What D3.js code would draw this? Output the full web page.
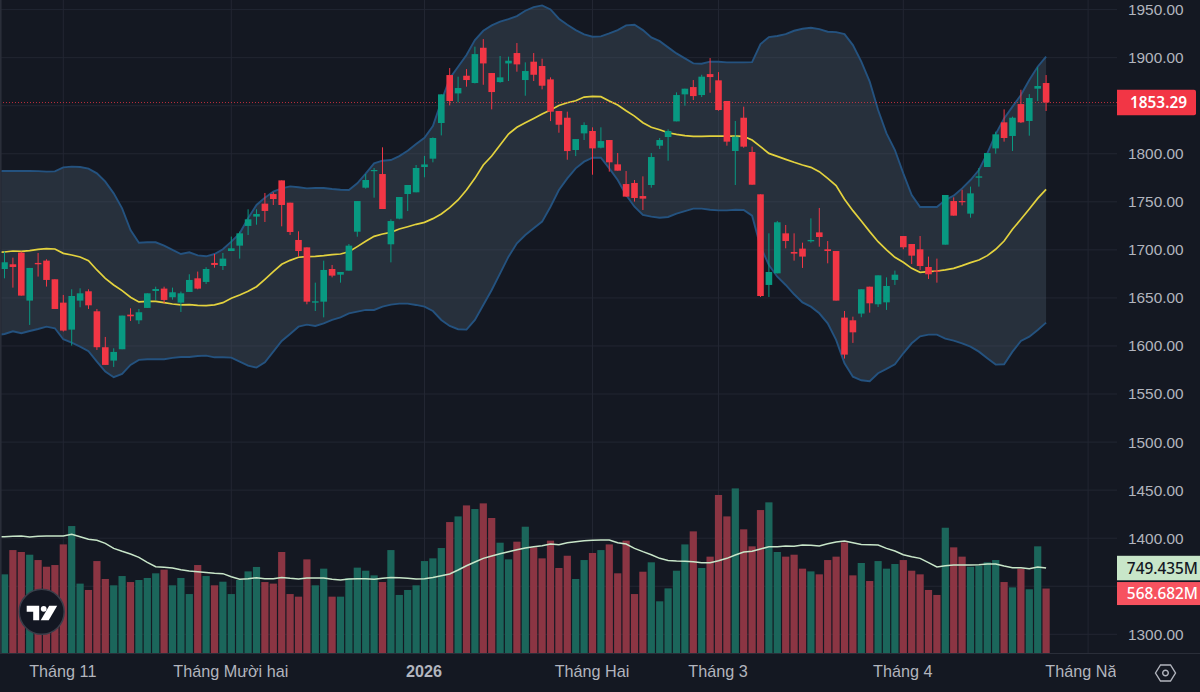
<!DOCTYPE html>
<html>
<head>
<meta charset="utf-8">
<script src="https://cdn.jsdelivr.net/npm/d3@7"></script>
<style>
  html, body { margin: 0; background: #131722; overflow: hidden; }
  svg { display: block; font-family: "Noto Sans", sans-serif; }
  .axis path, .axis line { display: none; }
  .axis text { fill: #b2b5be; font-size: 15.4px; }
  .time text { font-size: 16.2px; }
</style>
</head>
<body>
<svg id="chart" width="1200" height="692"></svg>
<script>
'use strict';

// candles, left to right (the first one sits just off the left edge)
var opens = [
  1690.0,
  1680.1,1685.0,1697.1,1647.2,1686.4,1688.8,1669.4,1645.1,1617.0,1647.2,
  1656.9,1636.1,1598.7,1584.8,1596.6,1632.6,1626.7,1639.6,1657.2,1659.7,
  1650.7,1645.1,1656.2,1670.4,1666.6,1686.4,1683.2,1698.8,1704.4,1724.9,
  1734.6,1748.1,1758.1,1772.3,1749.1,1710.3,1702.6,1645.1,1646.1,1680.1,
  1674.2,1678.4,1718.9,1764.7,1782.0,1778.9,1705.8,1732.5,1758.1,1759.9,
  1786.2,1794.9,1832.0,1881.9,1862.8,1881.2,1873.6,1910.3,1884.0,1874.6,
  1894.0,1904.8,1876.7,1895.8,1891.3,1877.4,1844.5,1837.5,1803.9,1821.2,
  1823.7,1806.3,1814.3,1789.0,1768.5,1769.6,1756.0,1767.5,1808.4,1817.4,
  1833.7,1861.8,1869.4,1861.1,1882.9,1876.4,1854.9,1802.9,1837.5,1801.8,
  1757.8,1663.5,1675.6,1717.2,1697.8,1701.3,1708.9,1718.2,1700.6,1698.8,
  1629.5,1626.7,1633.7,1661.7,1643.4,1645.4,1668.7,1714.4,1706.1,1700.6,
  1682.2,1678.4,1705.4,1750.8,1750.8,1737.7,1775.1,1786.2,1805.6,1832.7,
  1818.5,1851.7,1834.1,1867.7,1873.6
];
var closes = [
  1695.0,
  1687.1,1682.2,1652.4,1681.2,1685.0,1668.7,1638.5,1616.0,1652.0,1654.8,
  1642.3,1598.7,1580.3,1593.8,1631.6,1630.9,1635.1,1654.8,1659.3,1647.9,
  1655.9,1654.8,1668.7,1659.7,1680.1,1684.3,1690.9,1701.6,1717.2,1731.8,
  1737.3,1740.5,1752.9,1746.7,1718.6,1698.8,1646.1,1646.5,1679.1,1673.2,
  1677.0,1704.4,1750.8,1772.7,1783.1,1742.5,1730.0,1755.0,1767.5,1785.2,
  1788.9,1816.4,1861.8,1854.9,1868.4,1876.7,1903.7,1894.0,1864.2,1879.5,
  1896.8,1893.0,1886.1,1882.2,1870.8,1843.8,1830.2,1802.8,1815.3,1829.9,
  1805.6,1813.2,1791.1,1782.4,1755.4,1754.0,1753.3,1796.6,1814.3,1823.7,
  1861.1,1867.7,1860.0,1880.2,1879.8,1845.5,1812.6,1817.8,1807.4,1767.8,
  1652.0,1677.0,1728.7,1709.2,1696.1,1693.0,1710.3,1713.4,1698.8,1647.2,
  1591.0,1614.2,1659.0,1644.4,1673.5,1662.4,1674.2,1702.7,1694.0,1683.2,
  1674.6,1677.3,1757.1,1735.6,1749.8,1758.8,1776.5,1800.8,1820.2,1816.4,
  1837.5,1832.7,1858.0,1870.5,1853.29
];
var highs = [
  1700.0,
  1698.2,1691.9,1698.2,1681.2,1696.8,1690.2,1669.4,1653.1,1659.0,1660.0,
  1659.0,1638.5,1609.4,1597.6,1631.6,1639.2,1638.5,1654.8,1661.7,1661.7,
  1660.7,1656.6,1674.6,1677.4,1681.9,1695.7,1696.8,1713.8,1719.0,1742.2,
  1742.2,1759.2,1759.9,1772.3,1749.1,1719.3,1702.6,1665.9,1688.8,1684.3,
  1677.0,1706.1,1750.8,1778.9,1785.2,1806.7,1731.8,1755.0,1767.5,1788.3,
  1797.7,1817.0,1861.8,1889.2,1880.2,1888.1,1911.4,1919.3,1884.0,1901.7,
  1901.0,1915.2,1895.1,1904.8,1898.9,1879.5,1844.5,1843.8,1815.3,1832.7,
  1827.5,1827.5,1814.3,1800.8,1782.0,1772.7,1776.5,1800.8,1816.4,1825.4,
  1863.9,1867.7,1876.7,1882.2,1899.6,1885.0,1854.9,1834.1,1849.0,1807.4,
  1757.8,1717.2,1730.1,1725.9,1717.2,1707.5,1732.8,1743.6,1709.2,1698.8,
  1636.4,1630.5,1659.0,1661.7,1673.5,1671.4,1678.4,1714.4,1706.1,1714.4,
  1693.0,1690.9,1757.1,1754.7,1762.6,1765.8,1785.2,1800.8,1823.0,1846.2,
  1838.6,1866.6,1862.1,1889.9,1881.9
];
var lows = [
  1685.0,
  1670.4,1660.7,1652.4,1621.9,1672.2,1661.8,1638.5,1615.0,1600.4,1640.3,
  1638.5,1595.9,1580.3,1578.2,1596.6,1626.0,1622.9,1639.6,1647.9,1644.4,
  1648.2,1635.4,1656.2,1659.0,1664.5,1681.5,1679.1,1698.8,1690.9,1715.5,
  1726.2,1729.0,1746.7,1724.5,1715.5,1692.9,1643.4,1636.4,1629.8,1671.4,
  1665.9,1678.4,1713.7,1763.7,1754.3,1742.5,1687.0,1731.8,1740.4,1759.9,
  1775.5,1791.1,1819.1,1850.3,1853.5,1869.8,1873.2,1871.8,1846.2,1873.9,
  1875.7,1885.4,1860.4,1875.7,1867.0,1834.0,1821.9,1793.8,1797.6,1814.3,
  1778.2,1805.6,1781.4,1782.4,1755.4,1750.2,1741.5,1764.7,1804.9,1792.8,
  1833.7,1850.0,1855.9,1859.0,1863.5,1844.8,1808.4,1767.5,1806.3,1767.8,
  1651.0,1651.0,1675.6,1701.6,1688.8,1681.2,1707.5,1703.3,1686.0,1647.2,
  1586.9,1603.2,1629.9,1634.7,1640.6,1637.5,1663.5,1700.6,1685.3,1679.1,
  1669.7,1665.9,1705.4,1735.6,1746.3,1733.5,1765.8,1786.2,1800.1,1812.6,
  1802.9,1832.0,1818.8,1854.9,1844.5
];

// bollinger bands
var bandUpper = [
  1782.1,
  1782.1,1782.1,1782.1,1782.1,1781.9,1781.4,1781.7,1785.9,1786.6,1786.2,
  1784.5,1779.6,1771.0,1758.8,1743.2,1720.7,1707.5,1707.9,1707.9,1704.4,
  1699.9,1695.7,1697.5,1694.3,1693.3,1695.7,1700.6,1708.6,1717.2,1732.8,
  1746.7,1754.3,1760.6,1764.0,1766.1,1765.1,1764.0,1764.4,1764.4,1763.3,
  1762.6,1762.3,1769.2,1779.3,1790.0,1792.8,1793.5,1797.6,1803.2,1810.1,
  1816.7,1828.8,1854.2,1878.4,1890.6,1902.7,1918.3,1928.0,1933.6,1937.4,
  1940.1,1943.3,1948.8,1952.6,1954.4,1950.2,1940.5,1934.2,1928.7,1924.2,
  1921.8,1922.1,1925.2,1928.7,1933.6,1934.2,1928.7,1921.1,1917.2,1910.7,
  1904.4,1899.2,1894.0,1893.7,1895.8,1895.8,1895.1,1895.1,1895.1,1895.4,
  1914.1,1921.4,1922.5,1924.5,1928.0,1930.1,1931.1,1929.7,1927.0,1926.6,
  1924.5,1913.1,1895.8,1875.0,1845.5,1821.2,1803.9,1779.6,1757.1,1744.6,
  1744.6,1744.6,1751.9,1756.4,1764.0,1772.7,1783.1,1800.4,1820.5,1836.8,
  1849.0,1861.1,1876.7,1890.6,1901.0
];
var bandBasis = [
  1697.5,
  1697.8,1698.8,1698.5,1699.2,1700.6,1701.3,1700.9,1696.4,1694.7,1692.6,
  1688.8,1679.1,1670.4,1663.5,1657.6,1650.7,1645.8,1646.5,1646.5,1645.1,
  1643.7,1642.7,1643.0,1642.3,1642.0,1642.7,1645.1,1649.6,1653.1,1656.9,
  1661.7,1669.4,1677.4,1685.0,1689.1,1692.3,1692.9,1693.3,1694.0,1695.0,
  1695.7,1698.1,1703.4,1708.9,1714.1,1716.5,1718.2,1721.7,1724.1,1726.6,
  1728.6,1732.5,1737.3,1743.9,1751.9,1762.3,1774.4,1788.3,1797.6,1809.1,
  1820.5,1827.5,1832.3,1836.8,1841.3,1845.5,1850.3,1853.1,1855.2,1859.0,
  1859.7,1859.4,1854.9,1850.7,1844.8,1839.2,1832.3,1827.5,1825.0,1821.9,
  1820.2,1818.8,1818.1,1818.1,1818.4,1818.4,1818.4,1818.4,1818.1,1814.3,
  1807.4,1800.4,1797.3,1794.2,1791.1,1788.3,1785.9,1781.4,1774.4,1766.8,
  1752.6,1740.8,1730.0,1719.0,1708.5,1699.9,1692.3,1687.1,1680.8,1676.6,
  1677.3,1678.0,1679.1,1680.8,1683.6,1686.7,1689.5,1694.0,1700.6,1709.2,
  1721.4,1731.8,1742.5,1753.6,1763.0
];
var bandLower = [
  1611.0,
  1612.5,1615.3,1613.2,1615.6,1617.7,1620.1,1618.4,1607.0,1603.5,1599.3,
  1594.5,1583.7,1573.3,1567.5,1570.9,1580.3,1585.5,1586.2,1586.2,1586.2,
  1587.6,1588.6,1588.6,1589.6,1590.0,1588.2,1588.2,1587.9,1583.7,1579.6,
  1577.5,1583.0,1594.1,1605.2,1612.5,1620.1,1622.2,1620.8,1623.6,1627.1,
  1629.8,1634.0,1635.7,1637.5,1637.5,1640.9,1643.0,1644.1,1644.1,1642.7,
  1640.9,1636.4,1627.1,1620.8,1617.4,1617.0,1627.1,1642.7,1658.3,1675.6,
  1692.9,1706.8,1715.5,1722.4,1729.4,1744.9,1762.3,1774.4,1784.8,1791.8,
  1795.9,1795.9,1784.8,1772.7,1757.1,1744.9,1736.3,1734.6,1733.5,1734.2,
  1737.7,1740.4,1742.9,1742.9,1741.8,1741.1,1741.1,1741.8,1741.5,1735.6,
  1703.4,1684.3,1672.1,1663.5,1653.8,1645.4,1640.9,1634.0,1623.6,1606.3,
  1582.0,1568.1,1564.3,1563.3,1571.6,1576.1,1581.0,1592.4,1602.8,1610.1,
  1611.8,1611.8,1607.7,1605.6,1602.8,1599.3,1594.1,1587.2,1580.6,1581.0,
  1594.1,1605.2,1609.7,1616.7,1624.3
];

// volume in millions, and its moving average
var volumes = [
  700,
  694,908,891,867,820,761,776,958,1120,612,
  556,811,653,597,679,626,644,662,703,735,
  597,662,520,776,679,597,629,520,644,720,
  759,626,612,891,520,497,826,597,744,497,
  497,659,753,726,685,626,908,512,556,597,
  811,835,926,1155,1205,1302,1270,1320,1191,973,
  826,982,1114,932,835,991,750,858,653,820,
  882,908,958,703,991,520,717,800,456,570,
  726,958,1073,750,850,1394,1205,1452,1091,941,
  1261,1329,891,850,867,744,720,694,820,850,
  976,685,794,635,811,744,785,820,726,694,
  556,512,1105,932,850,761,770,800,820,626,
  579,744,562,941,568.682
];
var volumeMa = [
  1026,
  1026,1029,1032,1023,1029,1032,1032,1032,1047,1026,
  1003,994,967,923,897,873,844,800,761,756,
  750,735,723,717,711,703,700,673,650,656,
  664,656,656,667,659,653,662,662,662,650,
  644,653,656,656,650,659,667,664,659,653,
  656,667,682,697,732,770,803,835,856,876,
  894,911,926,938,947,961,955,973,982,991,
  994,997,997,973,961,923,894,867,835,817,
  811,809,806,797,797,814,835,864,891,897,
  917,938,938,944,941,953,950,944,964,979,
  988,973,958,955,953,923,900,867,850,835,
  797,759,770,776,776,776,779,785,785,767,
  753,753,744,759,749.435
];

// axes
var priceTicks = [1950,1900,1800,1750,1700,1650,1600,1550,1500,1450,1400,1300];
var gridPrices = [1950,1900,1850,1800,1750,1700,1650,1600,1550,1500,1450,1400,1350,1300];
var timeTicks  = [8,28,51,71,86,108,130];
var timeLabels = ['Tháng 11','Tháng Mười hai','2026','Tháng Hai','Tháng 3','Tháng 4','Tháng Năm'];
var lastPrice  = 1853.29;
var lastVolume = 568.682;
var lastMa     = 749.435;

var up = '#089981', down = '#f23645', volUp = '#1b665b', volDown = '#8b3543';

var svg = d3.select('#chart')
  , W = 1117
  , paneBottom = 653
  , idx = d3.range(opens.length);

var x = d3.scaleLinear().domain([0, 125]).range([-3.9, 1046.1])
  , y = d3.scaleLinear().domain([1300, 1950]).range([634.3, 9.6])
  , v = d3.scaleLinear().domain([0, 1452]).range([paneBottom, 488.4]);

svg.append('rect').attr('width', 1200).attr('height', 692).attr('fill', '#141822');

var defs = svg.append('defs');
defs.append('clipPath').attr('id', 'timeClip')
  .append('rect').attr('x', 0).attr('y', 0).attr('width', W).attr('height', 40);
defs.append('clipPath').attr('id', 'pane')
  .append('rect').attr('x', 1.6).attr('width', W - 1.6).attr('height', paneBottom);

// grid
var grid = svg.append('g').attr('stroke', '#222632').attr('stroke-width', 1);
grid.selectAll('.h').data(gridPrices).join('line').attr('class', 'h')
  .attr('x1', 0).attr('x2', W)
  .attr('y1', function(d){ return y(d); }).attr('y2', function(d){ return y(d); });
grid.selectAll('.v').data(timeTicks).join('line').attr('class', 'v')
  .attr('y1', 0).attr('y2', paneBottom)
  .attr('x1', function(d){ return x(d); }).attr('x2', function(d){ return x(d); });

svg.append('rect').attr('width', 1.6).attr('height', paneBottom).attr('fill', '#2a2e39');

var pane = svg.append('g').attr('clip-path', 'url(#pane)');

// volume
pane.append('g').selectAll('rect').data(idx).join('rect')
  .attr('x', function(i){ return x(i) - 3.6; })
  .attr('width', 7.2)
  .attr('y', function(i){ return v(volumes[i]); })
  .attr('height', function(i){ return paneBottom - v(volumes[i]); })
  .attr('fill', function(i){ return closes[i] >= opens[i] ? volUp : volDown; });

pane.append('path').datum(idx)
  .attr('fill', 'none').attr('stroke', '#c8e6c9').attr('stroke-width', 1.5)
  .attr('d', d3.line().x(function(i){ return x(i); }).y(function(i){ return v(volumeMa[i]); }));

// bollinger area and lines
pane.append('path').datum(idx)
  .attr('fill', 'rgba(76,92,108,.36)')
  .attr('d', d3.area().x(function(i){ return x(i); })
    .y0(function(i){ return y(bandLower[i]); })
    .y1(function(i){ return y(bandUpper[i]); }));

function bandLine(values, color, w){
  pane.append('path').datum(idx)
    .attr('fill', 'none').attr('stroke', color).attr('stroke-width', w)
    .attr('d', d3.line().x(function(i){ return x(i); }).y(function(i){ return y(values[i]); }));
}
bandLine(bandUpper, '#24527f', 1.9);
bandLine(bandLower, '#24527f', 1.9);
bandLine(bandBasis, '#e3d23e', 1.7);

// last price line
pane.append('line')
  .attr('x1', 0).attr('x2', W).attr('y1', y(lastPrice)).attr('y2', y(lastPrice))
  .attr('stroke', '#f23645').attr('stroke-opacity', .75).attr('stroke-width', 1)
  .attr('stroke-dasharray', '1 2');

// candles
var candles = pane.append('g').selectAll('g').data(idx).join('g')
  .attr('fill', function(i){ return closes[i] >= opens[i] ? up : down; })
  .attr('stroke', function(i){ return closes[i] >= opens[i] ? up : down; });
candles.append('line')
  .attr('x1', function(i){ return x(i); }).attr('x2', function(i){ return x(i); })
  .attr('y1', function(i){ return y(highs[i]); }).attr('y2', function(i){ return y(lows[i]); })
  .attr('stroke-width', 1);
candles.append('rect')
  .attr('stroke', 'none')
  .attr('x', function(i){ return x(i) - 3.3; }).attr('width', 6.6)
  .attr('y', function(i){ return y(Math.max(opens[i], closes[i])); })
  .attr('height', function(i){ return Math.max(1.2, Math.abs(y(opens[i]) - y(closes[i]))); });

// logo
var logo = svg.append('g').attr('transform', 'translate(41.7,611.8)');
logo.append('circle').attr('r', 22.5).attr('fill', '#131722').attr('stroke', '#3a3e4a').attr('stroke-width', 1.5);
logo.append('path').attr('fill', '#fff').attr('d', 'M-15,-6H-2.5V8.5H-8.5V0H-15Z');
logo.append('circle').attr('cx', 2).attr('cy', -3).attr('r', 2.9).attr('fill', '#fff');
logo.append('path').attr('fill', '#fff').attr('d', 'M7.5,-6H15.5L7,8.5H-1Z');

// axes
svg.append('line').attr('x1', 0).attr('x2', 1200).attr('y1', paneBottom + .5).attr('y2', paneBottom + .5).attr('stroke', '#2a2e39');

var rightAxis = svg.append('g').attr('class', 'axis').attr('transform', 'translate(' + W + ',0)')
  .call(d3.axisRight(y).tickValues(priceTicks).tickFormat(d3.format('.2f')).tickSize(0).tickPadding(11));

var bottomAxis = svg.append('g').attr('class', 'axis time').attr('transform', 'translate(-1,' + paneBottom + ')')
  .attr('clip-path', 'url(#timeClip)')
  .call(d3.axisBottom(x).tickValues(timeTicks).tickFormat(function(d, i){ return timeLabels[i]; }).tickSize(0).tickPadding(12.5));
bottomAxis.selectAll('text')
  .style('font-weight', function(d, i){ return timeLabels[i] === '2026' ? 700 : 400; });

// value labels
function valueLabel(cy, h, bg, fg, text){
  var g = svg.append('g');
  g.append('rect').attr('x', W).attr('y', cy - h / 2).attr('width', 83).attr('height', h).attr('fill', bg);
  g.append('text').attr('x', W + 81).attr('y', cy).attr('dy', '.36em').attr('text-anchor', 'end')
    .attr('fill', fg).style('font-size', '15.4px').style('font-weight', 500).text(text);
}
valueLabel(v(lastMa), 24.5, '#c8e6c9', '#131722', lastMa.toFixed(3) + 'M');
valueLabel(v(lastVolume) + 5, 23, '#f7525f', '#fff', lastVolume.toFixed(3) + 'M');

var priceTag = svg.append('g');
priceTag.append('path').attr('fill', '#f23645')
  .attr('d', 'M' + W + ',' + (y(lastPrice) - 12.8) + 'h77a2,2 0 0 1 2,2v21.6a2,2 0 0 1 -2,2h-77Z');
priceTag.append('text').attr('x', W + 70).attr('y', y(lastPrice)).attr('dy', '.36em').attr('text-anchor', 'end')
  .attr('fill', '#fff').style('font-size', '15.4px').style('font-weight', 600).text(d3.format('.2f')(lastPrice));

// settings icon
var gear = svg.append('g').attr('transform', 'translate(1165.5,673)').attr('fill', 'none').attr('stroke', '#b2b5be').attr('stroke-width', 1.4);
gear.append('path').attr('d', 'M-10,0L-5,-8H5L10,0L5,8H-5Z');
gear.append('circle').attr('r', 2.8);
</script>
</body>
</html>
